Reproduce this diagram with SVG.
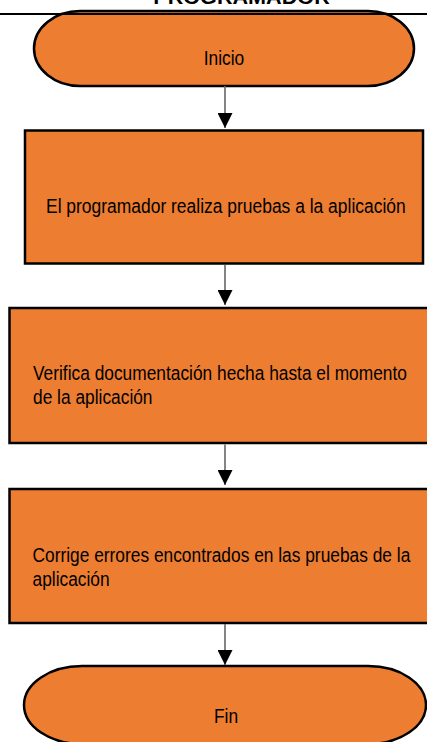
<svg xmlns="http://www.w3.org/2000/svg" width="427" height="742" viewBox="0 0 427 742">
<style>
.shape{fill:#ED7D31;stroke:#000;stroke-width:2.5}
.t{font-family:"Liberation Sans",Arial,sans-serif;font-size:21px;fill:#000}
.title{font-family:"Liberation Sans",Arial,sans-serif;font-size:21px;font-weight:bold;fill:#000}
.conn{stroke:#666;stroke-width:1.6;fill:none}
</style>
<defs>
<marker id="arr" viewBox="0 0 15 15" refX="15" refY="7.5" markerWidth="15" markerHeight="15" markerUnits="userSpaceOnUse" orient="auto">
<path d="M0,0 L15,7.5 L0,15 z" fill="#000"/>
</marker>
</defs>
<rect width="427" height="742" fill="#fff"/>
<text class="title" transform="translate(241.5,4) scale(1.03,1)" text-anchor="middle">PROGRAMADOR</text>
<g id="inicio">
<rect class="shape" x="34" y="11" width="380" height="75" rx="46" ry="37.5"/>
<text class="t" transform="translate(224,65) scale(0.827,1)" text-anchor="middle">Inicio</text>
</g>
<line x1="0" y1="14" x2="427" y2="14" stroke="#000" stroke-width="1.8"/>
<g id="paso1">
<rect class="shape" x="25" y="130.5" width="398" height="133"/>
<text class="t" transform="translate(46,213) scale(0.831,1)">El programador realiza pruebas a la aplicación</text>
</g>
<g id="paso2">
<rect class="shape" x="9.5" y="308" width="430" height="135"/>
<text class="t" transform="translate(33,380) scale(0.826,1)">Verifica documentación hecha hasta el momento</text>
<text class="t" transform="translate(33,404) scale(0.826,1)">de la aplicación</text>
</g>
<g id="paso3">
<rect class="shape" x="9.5" y="489" width="430" height="134"/>
<text class="t" transform="translate(32.5,562) scale(0.826,1)">Corrige errores encontrados en las pruebas de la</text>
<text class="t" transform="translate(32.5,586) scale(0.826,1)">aplicación</text>
</g>
<g id="fin">
<rect class="shape" x="24" y="666" width="402" height="78" rx="58" ry="39"/>
<text class="t" transform="translate(226,723) scale(0.827,1)" text-anchor="middle">Fin</text>
</g>
<g id="connectors">
<line class="conn" x1="225" y1="86" x2="225" y2="128" marker-end="url(#arr)"/>
<line class="conn" x1="225" y1="265" x2="225" y2="305" marker-end="url(#arr)"/>
<line class="conn" x1="225" y1="444.5" x2="225" y2="485" marker-end="url(#arr)"/>
<line class="conn" x1="225" y1="624" x2="225" y2="665" marker-end="url(#arr)"/>
</g>
</svg>
